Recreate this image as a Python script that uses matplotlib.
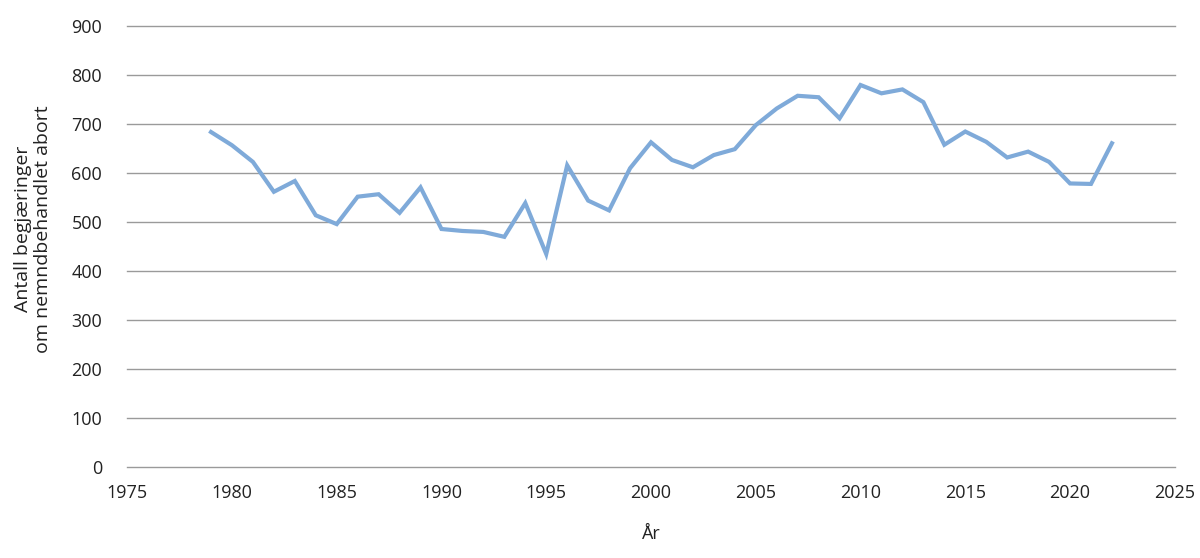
import matplotlib
matplotlib.use("Agg")
import matplotlib.pyplot as plt

years = list(range(1979, 2023))
requests = [684, 657, 623, 562, 584, 514, 496, 552, 557, 519,
            571, 486, 482, 480, 470, 539, 435, 616, 544, 524,
            610, 663, 627, 612, 637, 649, 698, 732, 758, 755,
            712, 780, 763, 771, 745, 658, 685, 664, 632, 644,
            623, 579, 578, 661]
xticks = list(range(1975, 2030, 5))
yticks = list(range(0, 1000, 100))

plt.rcParams['font.family'] = ['Open Sans', 'DejaVu Sans']

fig = plt.figure(figsize=(12, 5.58), dpi=100)
ax = fig.add_axes([0.106, 0.163, 0.873, 0.79])

ax.plot(years, requests, color='#7faad9', linewidth=3.0, solid_joinstyle='miter')

ax.set_xlim(1975, 2025)
ax.set_ylim(0, 900)
ax.set_xticks(xticks)
ax.set_yticks(yticks)
ax.yaxis.grid(True, color='#9a9a9a', linewidth=1)
for gl in ax.get_ygridlines():
    gl.set_clip_on(False)
ax.set_axisbelow(True)
for s in ax.spines.values():
    s.set_visible(False)
ax.tick_params(axis='both', length=0, labelsize=13, colors='#222222')
ax.tick_params(axis='y', pad=18)
ax.tick_params(axis='x', pad=12)

ax.set_xlabel('År', fontsize=13, color='#222222', labelpad=17)
ax.set_ylabel('Antall begjæringer\nom nemndbehandlet abort', fontsize=14,
              color='#222222', labelpad=14, linespacing=1.1)
ax.yaxis.label.set_y(0.54)

fig.savefig('out.png', dpi=100)
